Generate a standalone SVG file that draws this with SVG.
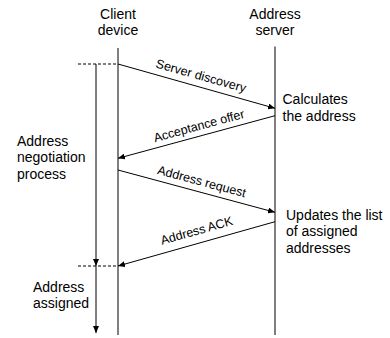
<svg xmlns="http://www.w3.org/2000/svg" width="390" height="338" viewBox="0 0 390 338">
<style>
text{font-family:"Liberation Sans",Arial,sans-serif;fill:#000;font-size:14px}
.lbl{font-size:12.5px;text-anchor:middle}
.hdr{text-anchor:middle}
.ln{stroke:#000;stroke-width:1;fill:none}
.ds{stroke:#000;stroke-width:1;stroke-dasharray:3,2;fill:none}
</style>
<defs>
<marker id="ah" markerUnits="userSpaceOnUse" markerWidth="7" markerHeight="6" refX="7" refY="3" orient="auto">
<path d="M0,0 L7,3 L0,6 z" fill="#000"/>
</marker>
</defs>
<g id="client">
<text class="hdr" x="118" y="19">Client</text>
<text class="hdr" x="118" y="34.5">device</text>
<line class="ln" x1="118" y1="48" x2="118" y2="335"/>
</g>
<g id="server">
<text class="hdr" x="275" y="19">Address</text>
<text class="hdr" x="275" y="34.5">server</text>
<line class="ln" x1="275" y1="46.5" x2="275" y2="335"/>
</g>
<g id="calc">
<text x="282.5" y="104">Calculates</text>
<text x="282.5" y="120.5">the address</text>
</g>
<g id="update">
<text x="286" y="219.5">Updates the list</text>
<text x="286" y="236">of assigned</text>
<text x="286" y="252.5">addresses</text>
</g>
<g id="negotiation">
<text x="17" y="145.5">Address</text>
<text x="17" y="162">negotiation</text>
<text x="17" y="178.5">process</text>
</g>
<g id="assigned">
<text x="33" y="291.5">Address</text>
<text x="33" y="308">assigned</text>
</g>
<g id="connectors">
<line class="ds" x1="78" y1="64" x2="118" y2="64"/>
<line class="ds" x1="78" y1="266" x2="118" y2="266"/>
<line class="ln" x1="96" y1="64" x2="96" y2="266" marker-end="url(#ah)"/>
<line class="ln" x1="96" y1="266" x2="96" y2="333" marker-end="url(#ah)"/>
<line class="ln" x1="118" y1="64" x2="275" y2="108.3" marker-end="url(#ah)"/>
<line class="ln" x1="275" y1="115.7" x2="118" y2="158.3" marker-end="url(#ah)"/>
<line class="ln" x1="118" y1="170" x2="275" y2="212.3" marker-end="url(#ah)"/>
<line class="ln" x1="275" y1="221.7" x2="118" y2="266" marker-end="url(#ah)"/>
<text class="lbl" transform="translate(201,76) rotate(15.7)" y="4">Server discovery</text>
<text class="lbl" transform="translate(199,126) rotate(-15.2)" y="4">Acceptance offer</text>
<text class="lbl" transform="translate(201.7,181.7) rotate(15)" y="4">Address request</text>
<text class="lbl" transform="translate(196.7,230.8) rotate(-15.8)" y="4">Address ACK</text>
</g>
</svg>
